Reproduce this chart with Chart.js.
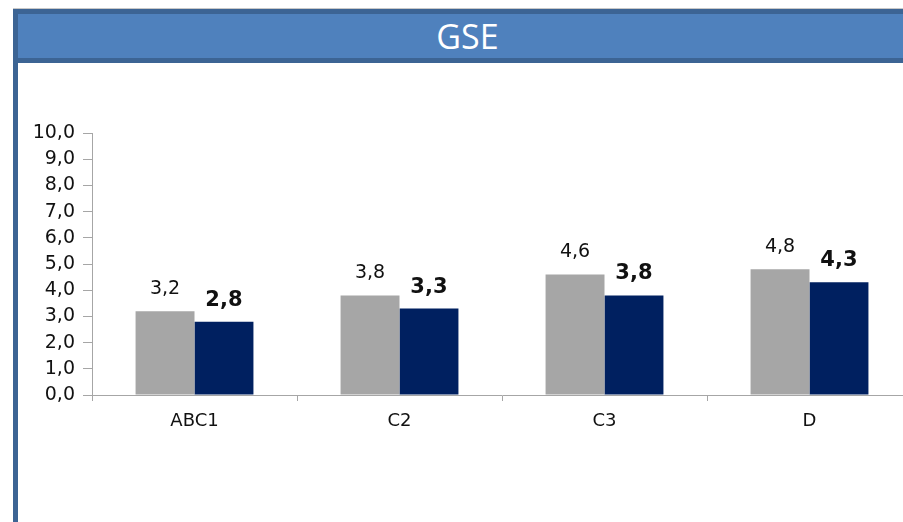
<!DOCTYPE html>
<html>
<head>
<meta charset="utf-8">
<script src="https://cdn.jsdelivr.net/npm/chart.js@4/dist/chart.umd.min.js"></script>
<style>
  html, body { margin: 0; padding: 0; background: #fff; width: 903px; height: 522px; overflow: hidden; }
  #leftLine { position: absolute; left: 13px; top: 9px; width: 5px; height: 520px; background: #3c6494; }
  #header {
    position: absolute; left: 13px; top: 9px; width: 904px; height: 54px; box-sizing: border-box;
    background: #4f81bd; border-top: 5px solid #3c6494; border-bottom: 5px solid #3c6494; border-left: 5px solid #3c6494;
    box-shadow: 0 -1px 0 #c8c8c8;
    color: #fff; font-family: "Open Sans", sans-serif; font-size: 34px; line-height: 44px; text-align: center;
  }
  #chartBox { position: absolute; left: 20px; top: 63px; }
</style>
</head>
<body>
<div id="leftLine"></div>
<div id="header">GSE</div>
<div id="chartBox"><canvas id="gseChart" width="900" height="459"></canvas></div>
<script>
'use strict';

var categories = ['ABC1', 'C2', 'C3', 'D'];
var greyValues = [3.2, 3.8, 4.6, 4.8];
var navyValues = [2.8, 3.3, 3.8, 4.3];
var yTicks = [0, 1, 2, 3, 4, 5, 6, 7, 8, 9, 10];

var formatValue = function(v) {
  return v.toFixed(1).replace('.', ',');
};

// value labels above each bar: grey series plain, navy series bold
var valueLabels = {
  id: 'valueLabels',
  afterDatasetsDraw: function(chart) {
    var ctx = chart.ctx;
    var fonts = ['19px "DejaVu Sans"', 'bold 21px "DejaVu Sans"'];
    var gaps = [17, 16];
    chart.data.datasets.forEach(function(ds, i) {
      chart.getDatasetMeta(i).data.forEach(function(bar, j) {
        ctx.save();
        ctx.font = fonts[i];
        ctx.fillStyle = '#111';
        ctx.textAlign = 'center';
        ctx.textBaseline = 'alphabetic';
        ctx.fillText(formatValue(ds.data[j]), bar.x, bar.y - gaps[i]);
        ctx.restore();
      });
    });
  }
};

var axisGrey = '#a6a6a6';
var tickFont = { family: 'DejaVu Sans', size: 19 };

new Chart(document.getElementById('gseChart').getContext('2d'), {
  type: 'bar',
  data: {
    labels: categories,
    datasets: [{
      data: greyValues,
      backgroundColor: '#a6a6a6',
      barPercentage: 1,
      categoryPercentage: 0.575
    }, {
      data: navyValues,
      backgroundColor: '#002060',
      barPercentage: 1,
      categoryPercentage: 0.575
    }]
  },
  options: {
    responsive: false,
    animation: false,
    layout: { padding: { top: 70, right: 8, left: 0, bottom: 0 } },
    plugins: { legend: { display: false }, tooltip: { enabled: false } },
    scales: {
      x: {
        grid: { drawOnChartArea: false, drawTicks: true, tickLength: 6, color: axisGrey, offset: true },
        border: { color: axisGrey },
        ticks: { color: '#111', font: { family: 'DejaVu Sans', size: 18 }, padding: 10 },
        afterFit: function(scale) { scale.height = 127; }
      },
      y: {
        min: 0,
        max: 10,
        afterBuildTicks: function(scale) {
          scale.ticks = yTicks.map(function(v) { return { value: v }; });
        },
        grid: { drawOnChartArea: false, drawTicks: true, tickLength: 9, color: axisGrey },
        border: { color: axisGrey },
        ticks: {
          color: '#111', font: tickFont, padding: 8,
          callback: function(v) { return formatValue(v); }
        },
        afterFit: function(scale) { scale.width = 72; }
      }
    }
  },
  plugins: [valueLabels]
});
</script>
</body>
</html>
